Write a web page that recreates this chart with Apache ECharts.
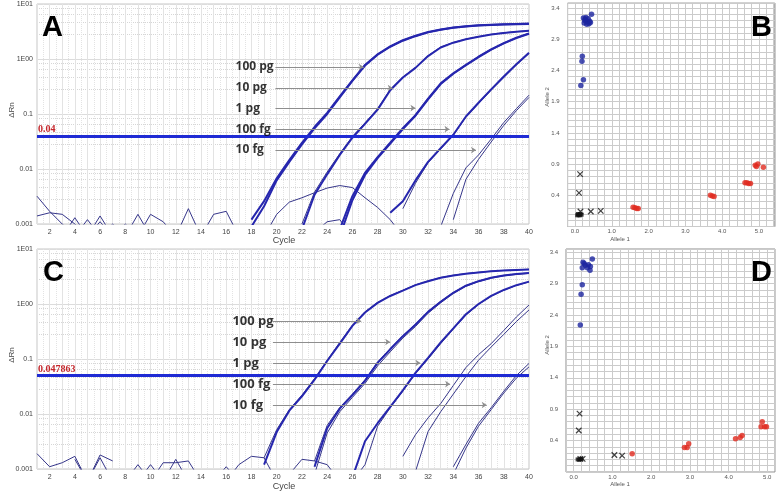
<!DOCTYPE html>
<html>
<head>
<meta charset="utf-8">
<script src="https://cdn.jsdelivr.net/npm/echarts@6/dist/echarts.min.js"></script>
<style>
  html, body { margin: 0; padding: 0; background: #fff; }
  #chart { width: 778px; height: 493px; }
</style>
</head>
<body>
<div id="chart"></div>
<script>
// ---------- data ----------
const amounts = ['100 pg', '10 pg', '1 pg', '100 fg', '10 fg'];
const yTickValues = [0.001, 0.01, 0.1, 1, 10];
const yTickText = ['0.001', '0.01', '0.1', '1E00', '1E01'];

const thresholdA = 0.04;
const thresholdC = 0.047863;

// panel A amplification curves (one value per cycle, first cycle noted)
const A_100pg_1 = [0.0009, 0.0021, 0.0062, 0.0135, 0.028, 0.055, 0.1, 0.2, 0.4, 0.76, 1.2, 1.67, 2.15, 2.6, 3.05, 3.4, 3.7, 3.9, 4.05, 4.15, 4.25, 4.3, 4.35]; // from 18
const A_100pg_2 = [0.0012, 0.0026, 0.0068, 0.0145, 0.03, 0.058, 0.105, 0.21, 0.41, 0.78, 1.22, 1.7, 2.2, 2.65, 3.1, 3.45, 3.75, 3.95, 4.1, 4.2, 4.3, 4.35, 4.4]; // from 18
const A_10pg_1 = [0.0008, 0.0034, 0.008, 0.018, 0.037, 0.066, 0.12, 0.27, 0.46, 0.69, 1.13, 1.62, 1.98, 2.28, 2.53, 2.78, 2.98, 3.13, 3.25]; // from 22
const A_10pg_2 = [0.001, 0.0038, 0.0088, 0.019, 0.039, 0.069, 0.125, 0.28, 0.47, 0.7, 1.15, 1.65, 2.0, 2.3, 2.55, 2.8, 3.0, 3.15, 3.27]; // from 22
const A_1pg_1 = [0.0008, 0.0032, 0.0085, 0.0165, 0.03, 0.055, 0.095, 0.19, 0.36, 0.55, 0.78, 1.1, 1.5, 1.95, 2.45, 2.93]; // from 25
const A_1pg_2 = [0.0006, 0.0027, 0.0078, 0.0158, 0.029, 0.053, 0.093, 0.185, 0.35, 0.54, 0.77, 1.08, 1.48, 1.92, 2.4, 2.88]; // from 25
const A_100fg_1 = [0.0016, 0.0026, 0.0062, 0.0135, 0.024, 0.042, 0.09, 0.16, 0.28, 0.48, 0.8, 1.3]; // from 29
const A_100fg_2 = [0.0019, 0.0055, 0.013, 0.023, 0.041, 0.088, 0.155, 0.27, 0.46, 0.78, 1.25]; // from 30
const A_10fg_1 = [0.0009, 0.0036, 0.0105, 0.018, 0.035, 0.07, 0.125, 0.22]; // from 33
const A_10fg_2 = [0.0012, 0.0065, 0.015, 0.031, 0.062, 0.115, 0.2]; // from 34
const A_noise_arc = [0.0006, 0.0015, 0.0025, 0.003, 0.0037, 0.0045, 0.005, 0.0046, 0.003, 0.002, 0.0012, 0.0006]; // from 19
const A_noise_flat = [0.0007, 0.0011, 0.0012, 0.0006]; // from 23
const A_noise_1 = [0.0032, 0.0017, 0.001, 0.0006, 0.0012, 0.0006, 0.001, 0.0006, 0.0015, 0.0006, 0.0006, 0.0006, 0.0019, 0.0006, 0.0015, 0.0017, 0.0006]; // from 1
const A_noise_2 = [0.0014, 0.0016, 0.0015, 0.001, 0.0006, 0.0014, 0.0006, 0.001, 0.0006, 0.0015, 0.0011, 0.0006]; // from 1
const A_noise_3 = [0.0006, 0.0013, 0.0006, 0.0011, 0.0006]; // from 3

// panel C amplification curves
const C_100pg_1 = [0.0012, 0.0047, 0.0115, 0.021, 0.042, 0.092, 0.19, 0.4, 0.7, 1.05, 1.4, 1.75, 2.2, 2.6, 3.0, 3.3, 3.55, 3.75, 3.92, 4.05, 4.15, 4.25]; // from 19
const C_100pg_2 = [0.0016, 0.0052, 0.012, 0.022, 0.044, 0.095, 0.2, 0.41, 0.72, 1.07, 1.42, 1.78, 2.23, 2.63, 3.03, 3.33, 3.58, 3.78, 3.95, 4.08, 4.18, 4.28]; // from 19
const C_10pg_1 = [0.0011, 0.0055, 0.0125, 0.022, 0.04, 0.085, 0.15, 0.26, 0.42, 0.72, 1.1, 1.6, 2.15, 2.6, 3.0, 3.3, 3.5, 3.65]; // from 23
const C_10pg_2 = [0.0008, 0.0045, 0.011, 0.02, 0.036, 0.075, 0.135, 0.24, 0.39, 0.68, 1.05, 1.55, 2.1, 2.55, 2.95, 3.25, 3.45, 3.6]; // from 23
const C_10pg_3 = [0.0014, 0.0062, 0.0132, 0.023, 0.042, 0.088, 0.155, 0.265, 0.43, 0.73, 1.12, 1.62, 2.17, 2.62, 3.02, 3.32, 3.52, 3.67]; // from 23
const C_1pg_1 = [0.0007, 0.0032, 0.0068, 0.0135, 0.027, 0.056, 0.105, 0.2, 0.36, 0.65, 1.0, 1.4, 1.8, 2.2, 2.55]; // from 26
const C_1pg_2 = [0.0006, 0.0012, 0.006, 0.013, 0.026, 0.054, 0.1, 0.19, 0.35, 0.63, 0.98, 1.38, 1.78, 2.18, 2.52]; // from 26
const C_100fg_1 = [0.0017, 0.0042, 0.0085, 0.0155, 0.033, 0.07, 0.12, 0.19, 0.33, 0.58, 0.96]; // from 30
const C_100fg_2 = [0.0009, 0.0048, 0.011, 0.023, 0.048, 0.095, 0.165, 0.28, 0.48, 0.78]; // from 31
const C_10fg_1 = [0.0011, 0.0028, 0.0068, 0.013, 0.026, 0.05, 0.083]; // from 34
const C_10fg_2 = [0.0008, 0.0024, 0.006, 0.012, 0.024, 0.045, 0.072]; // from 34
const C_noise_1 = [0.0019, 0.0011, 0.0013, 0.0017, 0.0006, 0.0018, 0.0014]; // from 1
const C_noise_2 = [0.0015, 0.0006, 0.0016, 0.0006, 0.0006, 0.0012, 0.0006, 0.0013, 0.0013, 0.0014, 0.0006, 0.0006, 0.0006, 0.0012, 0.0017, 0.0016, 0.0006]; // from 4
const C_noise_3 = [0.0006, 0.0012, 0.0006, 0.0015, 0.0006, 0.0006, 0.0006, 0.0011, 0.0006]; // from 9
const C_noise_4 = [0.0008, 0.0015, 0.0014, 0.0012, 0.0006]; // from 21

// annotation positions (cycle, ΔRn)
const A_labelCycle = 16.7;
const A_labelY = [0.716, 0.297, 0.128, 0.053, 0.0221];
const A_arrowStart = 19.9;
const A_arrowEnd = [26.9, 29.2, 31.0, 33.7, 35.8];
const C_labelCycle = 16.45;
const C_labelY = [0.49, 0.204, 0.0845, 0.035, 0.0146];
const C_arrowStart = 19.7;
const C_arrowEnd = [26.7, 29.0, 31.4, 33.75, 36.65];

// allelic discrimination plots
const B_blue = [[0.45, 3.3], [0.23, 3.24], [0.3, 3.25], [0.36, 3.23], [0.27, 3.2], [0.33, 3.18], [0.4, 3.19], [0.25, 3.16], [0.38, 3.15], [0.32, 3.14], [0.42, 3.17], [0.28, 3.22], [0.2, 2.63], [0.19, 2.55], [0.23, 2.25], [0.16, 2.16]];
const B_red = [[4.9, 0.88], [4.97, 0.9], [4.93, 0.86], [5.12, 0.85], [4.62, 0.6], [4.67, 0.6], [4.72, 0.59], [4.77, 0.59], [3.68, 0.4], [3.73, 0.39], [3.78, 0.38], [1.58, 0.21], [1.63, 0.2], [1.68, 0.19], [1.72, 0.19]];
const B_cross = [[0.14, 0.74], [0.11, 0.44], [0.43, 0.14], [0.7, 0.15], [0.15, 0.14]];
const B_square = [[0.06, 0.08], [0.1, 0.08], [0.14, 0.08], [0.18, 0.09], [0.08, 0.1], [0.13, 0.1]];
const D_blue = [[0.48, 3.29], [0.24, 3.24], [0.27, 3.22], [0.22, 3.15], [0.35, 3.15], [0.43, 3.17], [0.42, 3.11], [0.3, 3.19], [0.38, 3.2], [0.22, 2.88], [0.19, 2.73], [0.17, 2.24]];
const D_red = [[4.87, 0.7], [4.84, 0.62], [4.93, 0.62], [4.98, 0.62], [4.35, 0.48], [4.3, 0.45], [4.18, 0.43], [2.97, 0.35], [2.93, 0.29], [2.86, 0.29], [1.51, 0.19]];
const D_cross = [[0.15, 0.83], [0.13, 0.56], [1.05, 0.17], [1.25, 0.16], [0.17, 0.11], [0.23, 0.11]];
const D_square = [[0.1, 0.1], [0.14, 0.1], [0.18, 0.1], [0.2, 0.11]];

// ---------- helpers ----------
const SANS = '"Liberation Sans", Arial, sans-serif';
const THICK = '#2626ae';
const THIN = '#36368a';

function curve(start, vals) {
  return vals.map((v, i) => [start + i, v]);
}

function ampLine(ax, start, vals, thick) {
  return {
    type: 'line', xAxisIndex: ax, yAxisIndex: ax,
    data: curve(start, vals),
    symbol: 'none', silent: true, clip: true,
    lineStyle: { color: thick ? THICK : THIN, width: thick ? 2 : 1 },
    z: thick ? 3 : 2
  };
}

function logLabel(v) {
  for (let i = 0; i < yTickValues.length; i++) {
    if (Math.abs(Math.log10(v) - Math.log10(yTickValues[i])) < 1e-6) return yTickText[i];
  }
  return '';
}

function ampXAxis(grid) {
  return {
    type: 'value', gridIndex: grid, min: 1, max: 40, interval: 1,
    axisLine: { show: false }, axisTick: { show: false },
    axisLabel: { fontSize: 7, color: '#444', fontFamily: SANS, margin: 5,
      formatter: v => (v % 2 === 0 ? String(v) : '') },
    splitLine: { show: true, lineStyle: { color: '#e3e3e3', width: 1 } },
    minorTick: { show: false, splitNumber: 2 },
    minorSplitLine: { show: true, lineStyle: { color: '#e3e3e3', type: 'dotted' } }
  };
}

function ampYAxis(grid) {
  return {
    type: 'log', logBase: 10, gridIndex: grid, min: 0.001, max: 10,
    axisLine: { show: false }, axisTick: { show: false },
    axisLabel: { fontSize: 7, color: '#444', fontFamily: SANS, margin: 4, formatter: logLabel },
    splitLine: { show: true, lineStyle: { color: '#dcdcdc', width: 1 } },
    minorTick: { show: false, splitNumber: 5 },
    minorSplitLine: { show: true, lineStyle: { color: '#d6d6d6', type: 'dotted' } }
  };
}

function alleleXAxis(grid, min, max) {
  return {
    type: 'value', gridIndex: grid, min: min, max: max, interval: 0.2,
    axisLine: { show: false }, axisTick: { show: false },
    axisLabel: { fontSize: 6, color: '#555', fontFamily: SANS, margin: 2, showMinLabel: false, showMaxLabel: false,
      formatter: v => (Math.abs(v - Math.round(v)) < 1e-6 && v > -0.01 ? Math.round(v).toFixed(1) : '') },
    splitLine: { show: true, lineStyle: { color: '#cbcbcb', width: 1 } }
  };
}

function alleleYAxis(grid, min, max) {
  return {
    type: 'value', gridIndex: grid, min: min, max: max, interval: 0.1,
    axisLine: { show: false }, axisTick: { show: false },
    axisLabel: { fontSize: 6, color: '#555', fontFamily: SANS, margin: 8, showMinLabel: false, showMaxLabel: false,
      formatter: v => {
        const k = (v - 0.4) / 0.5;
        return (v > 0.35 && Math.abs(k - Math.round(k)) < 1e-6) ? v.toFixed(1) : '';
      } },
    splitLine: { show: true, lineStyle: { color: '#cbcbcb', width: 1 } }
  };
}

function thresholdLine(value, text) {
  return {
    silent: true, symbol: 'none', animation: false,
    data: [{ yAxis: value }],
    lineStyle: { color: '#1f2bd4', width: 3, type: 'solid' },
    label: { show: true, position: 'insideStartTop', formatter: text, distance: [1, 1],
      color: '#c4262b', fontFamily: '"Liberation Serif", serif', fontWeight: 'bold', fontSize: 10 }
  };
}

function arrowLines(start, ends, ys) {
  return {
    silent: true, animation: false,
    symbol: ['none', 'arrow'], symbolSize: 5,
    lineStyle: { color: '#8e8e8e', width: 1, type: 'solid' },
    label: { show: false },
    data: ends.map((e, i) => [{ coord: [start, ys[i]] }, { coord: [e, ys[i]] }])
  };
}

function amountLabels(ax, cyc, ys, size) {
  return {
    type: 'scatter', xAxisIndex: ax, yAxisIndex: ax, silent: true,
    symbolSize: 1, itemStyle: { color: 'transparent' },
    data: amounts.map((n, i) => ({ value: [cyc, ys[i]], name: n })),
    label: { show: true, position: 'right', distance: 0, formatter: '{b}',
      color: '#000', fontFamily: '"Open Sans", sans-serif', fontWeight: 'bold', fontSize: size },
    z: 6
  };
}

function dots(ax, data, color) {
  return { type: 'scatter', xAxisIndex: ax, yAxisIndex: ax, silent: true, data: data,
    symbol: 'circle', symbolSize: 5.5, itemStyle: { color: color } };
}

function crosses(ax, data) {
  return { type: 'scatter', xAxisIndex: ax, yAxisIndex: ax, silent: true, data: data,
    symbol: 'path://M0,0L10,10M10,0L0,10', symbolSize: 5.5,
    itemStyle: { color: 'transparent', borderColor: '#111', borderWidth: 1.2 } };
}

function squares(ax, data) {
  return { type: 'scatter', xAxisIndex: ax, yAxisIndex: ax, silent: true, data: data,
    symbol: 'rect', symbolSize: 4, itemStyle: { color: '#111' } };
}

function text(x, y, str, size, color, rotate) {
  return {
    type: 'text', x: x, y: y, rotation: rotate ? Math.PI / 2 : 0, silent: true,
    style: { text: str, align: 'center', verticalAlign: 'middle', fontFamily: SANS,
      fontSize: size, fill: color }
  };
}

function panelLetter(str, left, top) {
  return { text: str, left: left, top: top, padding: 0,
    textStyle: { fontSize: 29, fontWeight: 'bold', color: '#000', fontFamily: SANS } };
}

// ---------- chart ----------
const chart = echarts.init(document.getElementById('chart'), null, { renderer: 'canvas' });

const seriesA = [
  ampLine(0, 1, A_noise_1, false), ampLine(0, 1, A_noise_2, false), ampLine(0, 3, A_noise_3, false),
  ampLine(0, 19, A_noise_arc, false), ampLine(0, 23, A_noise_flat, false),
  ampLine(0, 18, A_100pg_1, true), ampLine(0, 18, A_100pg_2, true),
  ampLine(0, 22, A_10pg_1, true), ampLine(0, 22, A_10pg_2, false),
  ampLine(0, 25, A_1pg_1, true), ampLine(0, 25, A_1pg_2, true),
  ampLine(0, 29, A_100fg_1, true), ampLine(0, 30, A_100fg_2, false),
  ampLine(0, 33, A_10fg_1, false), ampLine(0, 34, A_10fg_2, false)
];
seriesA[0].markLine = arrowLines(A_arrowStart, A_arrowEnd, A_labelY);
seriesA[seriesA.length - 1].markLine = thresholdLine(thresholdA, '0.04');

const seriesC = [
  ampLine(2, 1, C_noise_1, false), ampLine(2, 4, C_noise_2, false), ampLine(2, 9, C_noise_3, false),
  ampLine(2, 21, C_noise_4, false),
  ampLine(2, 19, C_100pg_1, true), ampLine(2, 19, C_100pg_2, false),
  ampLine(2, 23, C_10pg_1, true), ampLine(2, 23, C_10pg_2, false), ampLine(2, 23, C_10pg_3, false),
  ampLine(2, 26, C_1pg_1, true), ampLine(2, 26, C_1pg_2, false),
  ampLine(2, 30, C_100fg_1, false), ampLine(2, 31, C_100fg_2, false),
  ampLine(2, 34, C_10fg_1, false), ampLine(2, 34, C_10fg_2, false)
];
seriesC[0].markLine = arrowLines(C_arrowStart, C_arrowEnd, C_labelY);
seriesC[seriesC.length - 1].markLine = thresholdLine(thresholdC, '0.047863');

const option = {
  animation: false,
  backgroundColor: '#fff',
  title: [
    panelLetter('A', 42, 13),
    panelLetter('C', 43, 258),
    panelLetter('B', 751, 13),
    panelLetter('D', 751, 258)
  ],
  grid: [
    { left: 37, top: 4, width: 492, height: 220, show: true, borderColor: '#c6c6c6', borderWidth: 1 },
    { left: 567.6, top: 3.1, width: 207.2, height: 223.4, show: true, borderColor: '#8f8f8f', borderWidth: 1 },
    { left: 37, top: 249, width: 492, height: 220, show: true, borderColor: '#c6c6c6', borderWidth: 1 },
    { left: 566, top: 249, width: 209, height: 223, show: true, borderColor: '#8f8f8f', borderWidth: 1 }
  ],
  xAxis: [ampXAxis(0), alleleXAxis(1, -0.2, 5.43), ampXAxis(2), alleleXAxis(3, -0.2, 5.2)],
  yAxis: [ampYAxis(0), alleleYAxis(1, -0.1, 3.48), ampYAxis(2), alleleYAxis(3, -0.1, 3.45)],
  series: [].concat(
    seriesA, [amountLabels(0, A_labelCycle, A_labelY, 12)],
    seriesC, [amountLabels(2, C_labelCycle, C_labelY, 13)],
    [dots(1, B_blue, '#1c249f'), dots(1, B_red, '#e02a1f'), crosses(1, B_cross), squares(1, B_square)],
    [dots(3, D_blue, '#1c249f'), dots(3, D_red, '#e02a1f'), crosses(3, D_cross), squares(3, D_square)]
  ),
  graphic: [
    text(12, 110, 'ΔRn', 8, '#444', true),
    text(12, 355, 'ΔRn', 8, '#444', true),
    text(284, 241, 'Cycle', 9, '#444'),
    text(284, 487, 'Cycle', 9, '#444'),
    text(620, 239, 'Allele 1', 6, '#555'),
    text(620, 484, 'Allele 1', 6, '#555'),
    text(547, 97, 'Allele 2', 6, '#555', true),
    text(547, 345, 'Allele 2', 6, '#555', true)
  ]
};

chart.setOption(option);
</script>
</body>
</html>
